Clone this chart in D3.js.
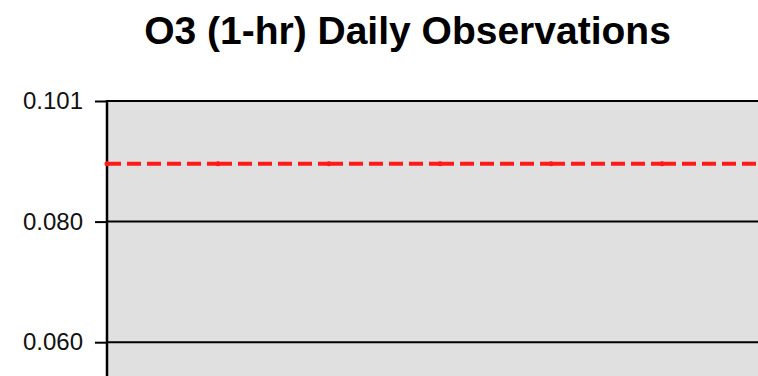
<!DOCTYPE html>
<html>
<head>
<meta charset="utf-8">
<script src="https://cdn.jsdelivr.net/npm/d3@7/dist/d3.min.js"></script>
<style>
    html, body { margin: 0; padding: 0; background: #fff; overflow: hidden; }
    #chart { width: 758px; height: 376px; }
    .title { font-family: "Liberation Sans", Arial, sans-serif; font-weight: bold; }
    .yAxis text { font-family: "Liberation Sans", Arial, sans-serif; }
</style>
</head>
<body>
<div id="chart"></div>
<script>
// data
const days = ['6/1', '6/2', '6/3', '6/4', '6/5', '6/6', '6/7'];
const standardValues = [0.0896, 0.0896, 0.0896, 0.0896, 0.0896, 0.0896, 0.0896];
const yTicks = [0.060, 0.080, 0.1000];
const yTickLabels = ['0.060', '0.080', '0.101'];
const chartTitle = 'O3 (1-hr) Daily Observations';

class DailyObsChart {
    constructor(containerId, width, height) {
        this.width = width;
        this.height = height;
        this.svg = d3.select(`#${containerId}`)
            .append('svg')
            .attr('width', width)
            .attr('height', height);

        // plot box runs past the right and bottom edge of the window
        this.plot = { left: 107, top: 101, right: 107 + 111 * (days.length - 1), bottom: 342.2 };

        this.x = d3.scalePoint()
            .domain(days)
            .range([this.plot.left, this.plot.right]);

        this.y = d3.scaleLinear()
            .domain([yTicks[0], yTicks[yTicks.length - 1]])
            .range([this.plot.bottom, this.plot.top]);
    }

    render() {
        const p = this.plot;

        this.svg.append('text')
            .attr('class', 'title')
            .attr('x', 407.5)
            .attr('y', 44)
            .attr('text-anchor', 'middle')
            .style('font-size', '39px')
            .attr('fill', '#000')
            .text(chartTitle);

        this.svg.append('rect')
            .attr('x', p.left)
            .attr('y', p.top)
            .attr('width', p.right - p.left)
            .attr('height', this.height - p.top + 20)
            .attr('fill', '#e0e0e0');

        // gridlines
        this.svg.append('g')
            .selectAll('line')
            .data(yTicks)
            .join('line')
            .attr('x1', p.left)
            .attr('x2', p.right)
            .attr('y1', d => this.y(d))
            .attr('y2', d => this.y(d))
            .attr('stroke', '#000')
            .attr('stroke-width', 2);

        const yAxis = d3.axisLeft(this.y)
            .tickValues(yTicks)
            .tickSize(12)
            .tickPadding(12)
            .tickFormat((d, i) => yTickLabels[i]);

        const ag = this.svg.append('g')
            .attr('class', 'yAxis')
            .attr('transform', `translate(${p.left},0)`)
            .call(yAxis);
        ag.select('.domain').remove();
        ag.selectAll('.tick line').attr('stroke', '#000').attr('stroke-width', 2);
        ag.selectAll('.tick text').style('font-size', '24px').attr('fill', '#111');

        this.svg.append('line')
            .attr('x1', p.left).attr('x2', p.left)
            .attr('y1', p.top - 1).attr('y2', this.height + 5)
            .attr('stroke', '#000')
            .attr('stroke-width', 2.5);

        // dashed series, dash pattern restarts at every point like the original
        const pts = days.map((d, i) => [this.x(d), this.y(standardValues[i])]);
        const line = d3.line();
        this.svg.append('g')
            .selectAll('path')
            .data(d3.pairs(pts))
            .join('path')
            .attr('d', d => line(d))
            .attr('fill', 'none')
            .attr('stroke', '#ff1a1a')
            .attr('stroke-width', 4)
            .attr('stroke-dasharray', '14,6');

        this.svg.append('g')
            .selectAll('circle')
            .data(pts)
            .join('circle')
            .attr('cx', d => d[0])
            .attr('cy', d => d[1])
            .attr('r', 2.5)
            .attr('fill', '#ff1a1a');
    }
}

const chart = new DailyObsChart('chart', 758, 376);
chart.render();
</script>
</body>
</html>
